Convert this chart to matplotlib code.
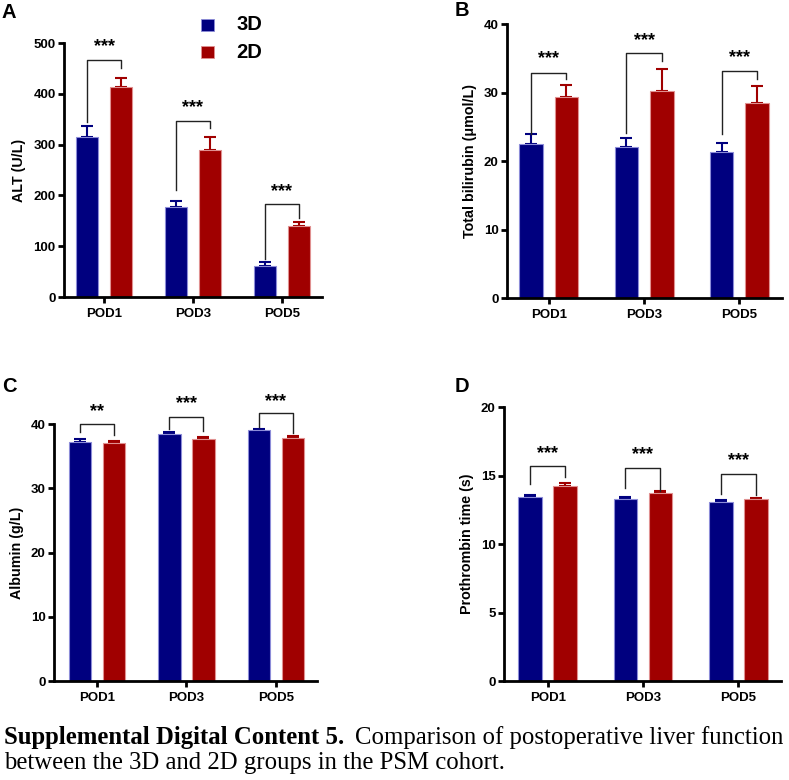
import matplotlib
matplotlib.use("Agg")
import matplotlib.pyplot as plt
import numpy as np
from matplotlib.patches import Rectangle

categories = ["POD1", "POD3", "POD5"]
groups = ["3D", "2D"]

# Panel A: ALT (U/L)
alt_3d = [316, 178, 62]
alt_3d_err = [20, 11, 6]
alt_2d = [413, 289, 140]
alt_2d_err = [19, 26, 8]
alt_sig = ["***", "***", "***"]

# Panel B: Total bilirubin
tb_3d = [22.5, 22.1, 21.3]
tb_3d_err = [1.45, 1.3, 1.3]
tb_2d = [29.4, 30.2, 28.5]
tb_2d_err = [1.7, 3.2, 2.5]
tb_sig = ["***", "***", "***"]

# Panel C: Albumin
alb_3d = [37.25, 38.4, 39.05]
alb_3d_err = [0.45, 0.3, 0.25]
alb_2d = [37.0, 37.7, 37.9]
alb_2d_err = [0.4, 0.3, 0.25]
alb_sig = ["**", "***", "***"]

# Panel D: Prothrombin time
pt_3d = [13.43, 13.26, 13.09]
pt_3d_err = [0.17, 0.19, 0.15]
pt_2d = [14.26, 13.72, 13.26]
pt_2d_err = [0.17, 0.12, 0.12]
pt_sig = ["***", "***", "***"]

BLUE = "#00007F"
RED = "#A00000"
BLUE_EDGE = "#8C8CD8"
RED_EDGE = "#E09090"

plt.rcParams['font.family'] = ['Liberation Sans', 'DejaVu Sans']

fig = plt.figure(figsize=(7.89, 7.80), dpi=100)

def panel(rect, v3, e3, v2, e2, sig, ylim, yticks, ylabel, xlim, brackets, width=0.25, off=0.19):
    ax = fig.add_axes(rect)
    x = np.arange(len(categories))
    ax.bar(x - off, v3, width, color=BLUE, edgecolor=BLUE_EDGE, linewidth=0.8, zorder=2)
    ax.bar(x + off, v2, width, color=RED, edgecolor=RED_EDGE, linewidth=0.8, zorder=2)
    ax.errorbar(x - off, v3, yerr=[np.zeros(3), e3], fmt='none', ecolor=BLUE,
                elinewidth=1.5, capsize=4.5, capthick=1.5, zorder=1)
    ax.errorbar(x + off, v2, yerr=[np.zeros(3), e2], fmt='none', ecolor=RED,
                elinewidth=1.5, capsize=4.5, capthick=1.5, zorder=1)
    for i, (lb, rb, top, st) in enumerate(brackets):
        ax.plot([i - off, i - off, i + off, i + off], [lb, top, top, rb],
                color='#222222', lw=1.0, clip_on=False, zorder=3)
        ax.text(i, st, sig[i], ha='center', va='center', fontsize=13,
                fontweight='bold', clip_on=False)
    ax.set_xlim(*xlim)
    ax.set_ylim(*ylim)
    ax.set_yticks(yticks)
    ax.set_xticks(x)
    ax.set_xticklabels(categories, fontsize=9.5, fontweight='bold')
    for lab in ax.get_yticklabels():
        lab.set_fontweight('bold')
        lab.set_fontsize(9.5)
    ax.set_ylabel(ylabel, fontsize=10.3, fontweight='bold', labelpad=5)
    for s in ['top', 'right']:
        ax.spines[s].set_visible(False)
    for s in ['left', 'bottom']:
        ax.spines[s].set_linewidth(2)
    ax.tick_params(width=2, length=4, pad=2)
    ax.tick_params(axis='x', pad=4)
    return ax

axA = panel([0.0811, 0.6192, 0.327, 0.3256], alt_3d, alt_3d_err, alt_2d, alt_2d_err, alt_sig,
            (0, 500), [0, 100, 200, 300, 400, 500], "ALT (U/L)", (-0.45, 2.45),
            [(345, 451, 466, 494), (210, 332, 346, 372), (75, 155, 183, 207)])
axB = panel([0.6426, 0.6179, 0.3485, 0.3513], tb_3d, tb_3d_err, tb_2d, tb_2d_err, tb_sig,
            (0, 40), [0, 10, 20, 30, 40], "Total bilirubin (μmol/L)", (-0.44, 2.45),
            [(24.0, 31.95, 32.9, 34.9), (24.1, 34.6, 35.7, 37.6), (24.0, 31.95, 33.2, 35.1)],
            width=0.25, off=0.185)
axC = panel([0.0684, 0.1269, 0.3333, 0.3295], alb_3d, alb_3d_err, alb_2d, alb_2d_err, alb_sig,
            (0, 40), [0, 10, 20, 30, 40], "Albumin (g/L)", (-0.48, 2.46),
            [(38.8, 38.3, 40.0, 41.9), (39.3, 38.96, 41.1, 43.1), (39.6, 38.6, 41.7, 43.5)],
            width=0.25, off=0.19)
axD = panel([0.6388, 0.1269, 0.351, 0.3513], pt_3d, pt_3d_err, pt_2d, pt_2d_err, pt_sig,
            (0, 20), [0, 5, 10, 15, 20], "Prothrombin time (s)", (-0.46, 2.45),
            [(14.35, 14.9, 15.67, 16.6), (14.1, 13.9, 15.55, 16.5), (13.67, 13.55, 15.13, 16.1)],
            width=0.25, off=0.184)

# Panel letters
for lbl, px, py in [("A", 2, 12), ("B", 455, 11), ("C", 2, 387), ("D", 455, 387)]:
    fig.text(px / 789, 1 - py / 780, lbl, fontsize=14.5, fontweight='bold', ha='left', va='center')

# Legend
for j, (g, c, ec) in enumerate(zip(groups, [BLUE, RED], [BLUE_EDGE, RED_EDGE])):
    yc = 25 + j * 27
    fig.patches.append(Rectangle((201 / 789, 1 - (yc + 6) / 780), 13 / 789, 12 / 780,
                                 transform=fig.transFigure, facecolor=c, edgecolor=ec, lw=0.6))
    fig.text(236 / 789, 1 - yc / 780, g, fontsize=14.5, fontweight='bold', ha='left', va='center')

# Caption
cap_font = ['Liberation Serif', 'DejaVu Serif']
t1 = fig.text(4 / 789, 1 - 744 / 780, "Supplemental Digital Content 5.", fontsize=17.8,
              fontweight='bold', family=cap_font, ha='left', va='baseline')
fig.canvas.draw()
bb = t1.get_window_extent()
fig.text((bb.x1 + 11) / 789, 1 - 744 / 780, "Comparison of postoperative liver function",
         fontsize=17.8, family=cap_font, ha='left', va='baseline')
fig.text(4 / 789, 1 - 769 / 780, "between the 3D and 2D groups in the PSM cohort.",
         fontsize=17.8, family=cap_font, ha='left', va='baseline')

fig.savefig("out.png", dpi=100)
